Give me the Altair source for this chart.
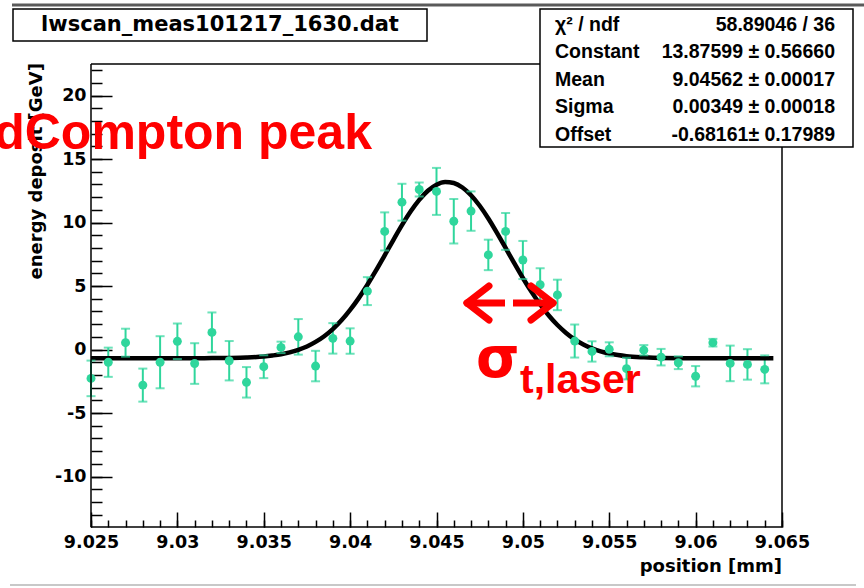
import altair as alt
import pandas as pd

# ---- data ----
positions = [9.025, 9.026, 9.027, 9.028, 9.029, 9.030, 9.031, 9.032, 9.033, 9.034,
             9.035, 9.036, 9.037, 9.038, 9.039, 9.040, 9.041, 9.042, 9.043, 9.044,
             9.045, 9.046, 9.047, 9.048, 9.049, 9.050, 9.051, 9.052, 9.053, 9.054,
             9.055, 9.056, 9.057, 9.058, 9.059, 9.060, 9.061, 9.062, 9.063, 9.064]
energy = [-2.27, -1.0, 0.54, -2.8, -1.0, 0.65, -1.1, 1.35, -0.88, -2.58,
          -1.35, 0.17, 1.0, -1.3, 0.88, 0.67, 4.6, 9.3, 11.6, 12.6,
          12.45, 10.1, 10.9, 7.45, 9.3, 7.05, 5.1, 4.3, 0.67, -0.15,
          0.02, -1.5, -0.05, -0.6, -1.04, -2.1, 0.54, -1.09, -1.17, -1.56]
errors = [1.4, 1.15, 1.1, 1.3, 2.05, 1.4, 1.6, 1.57, 1.55, 1.2,
          0.9, 0.45, 1.4, 1.2, 1.2, 1.0, 1.1, 1.5, 1.45, 0.55,
          1.85, 1.75, 1.55, 1.2, 1.45, 1.5, 1.3, 1.2, 1.3, 0.8,
          0.55, 0.85, 0.4, 0.65, 0.5, 0.8, 0.3, 1.4, 1.2, 1.1]

# fitted curve
fit_x = [9.025, 9.027, 9.029, 9.031, 9.032, 9.033, 9.034, 9.035, 9.0355, 9.036,
         9.0365, 9.037, 9.0375, 9.038, 9.0385, 9.039, 9.0395, 9.040, 9.0405, 9.041,
         9.0415, 9.042, 9.0425, 9.043, 9.0435, 9.044, 9.0445, 9.045, 9.0455, 9.046,
         9.0465, 9.047, 9.0475, 9.048, 9.0485, 9.049, 9.0495, 9.050, 9.0505, 9.051,
         9.0515, 9.052, 9.0525, 9.053, 9.0535, 9.054, 9.0545, 9.055, 9.0555, 9.056,
         9.057, 9.058, 9.060, 9.062, 9.0645]
fit_y = [-0.68, -0.68, -0.68, -0.68, -0.67, -0.66, -0.63, -0.55, -0.47, -0.37,
         -0.22, -0.02, 0.24, 0.60, 1.05, 1.61, 2.30, 3.12, 4.05, 5.10,
         6.23, 7.42, 8.62, 9.79, 10.86, 11.78, 12.50, 12.98, 13.19, 13.11,
         12.76, 12.15, 11.32, 10.32, 9.19, 8.00, 6.80, 5.63, 4.54, 3.55,
         2.68, 1.93, 1.31, 0.80, 0.40, 0.09, -0.14, -0.31, -0.43, -0.52,
         -0.61, -0.66, -0.68, -0.68, -0.68]

x_major = [9.025, 9.03, 9.035, 9.04, 9.045, 9.05, 9.055, 9.06, 9.065]
x_minor = [round(9.025 + 0.001 * k, 3) for k in range(41)]
y_major = [-10, -5, 0, 5, 10, 15, 20]
y_minor = list(range(-13, 23))

stat_names = ["\u03c7\u00b2 / ndf", "Constant", "Mean", "Sigma", "Offset"]
stat_values = ["58.89046 / 36", "13.87599 \u00b1 0.56660", "9.04562 \u00b1 0.00017",
               "0.00349 \u00b1 0.00018", "-0.68161\u00b1 0.17989"]

title_text = "lwscan_meas101217_1630.dat"
x_title = "position [mm]"
y_title = "energy deposit [GeV]"

# ---- layout (plot area) ----
W, H = 691, 463
PL, PT = 91, 64
FONT = "DejaVu Sans"
HELV = "Liberation Sans"
GREEN = "#2fd69c"
RED = "#ff0000"

XDOM = [9.025, 9.065]
YDOM = [-13.97, 22.48]

df = pd.DataFrame({"position": positions, "energy": energy, "err": errors})
df["lo"] = df["energy"] - df["err"]
df["hi"] = df["energy"] + df["err"]
fit = pd.DataFrame({"position": fit_x, "energy": fit_y})
one = pd.DataFrame({"a": [0]})

xs = alt.Scale(domain=XDOM, nice=False, zero=False)
ys = alt.Scale(domain=YDOM, nice=False, zero=False)

lab = dict(labelFont=FONT, labelFontWeight="bold", labelFontSize=17.5, labelColor="black",
           tickColor="black", tickWidth=1.5, domain=False, grid=False, title=None,
           labelOverlap=False, labelFlush=False)

x_major_axis = alt.Axis(values=x_major, tickSize=15, offset=-15, labelPadding=6,
                        orient="bottom", format=".3~f", **lab)
y_major_axis = alt.Axis(values=y_major, tickSize=21, offset=-21, labelPadding=5,
                        orient="left", labelExpr="toString(datum.value)", **lab)
x_minor_axis = alt.Axis(values=x_minor, tickSize=7, offset=-7, labels=False, orient="bottom",
                        tickColor="black", tickWidth=1.5, domain=False, grid=False, title=None)
y_minor_axis = alt.Axis(values=y_minor, tickSize=11, offset=-11, labels=False, orient="left",
                        tickColor="black", tickWidth=1.5, domain=False, grid=False, title=None)

base = alt.Chart(df)

bars = base.mark_rule(color=GREEN, strokeWidth=2).encode(
    x=alt.X("position:Q", scale=xs, axis=x_major_axis),
    y=alt.Y("lo:Q", scale=ys, axis=y_major_axis),
    y2="hi:Q",
)
cap_lo = base.mark_tick(color=GREEN, orient="horizontal", size=9, thickness=2).encode(
    x=alt.X("position:Q", scale=xs, axis=None), y=alt.Y("lo:Q", scale=ys, axis=None))
cap_hi = base.mark_tick(color=GREEN, orient="horizontal", size=9, thickness=2).encode(
    x=alt.X("position:Q", scale=xs, axis=None), y=alt.Y("hi:Q", scale=ys, axis=None))
pts = base.mark_circle(color=GREEN, size=80, opacity=1).encode(
    x=alt.X("position:Q", scale=xs, axis=None), y=alt.Y("energy:Q", scale=ys, axis=None))

curve = alt.Chart(fit).mark_line(color="black", strokeWidth=4.5, interpolate="monotone").encode(
    x=alt.X("position:Q", scale=xs, axis=x_minor_axis),
    y=alt.Y("energy:Q", scale=ys, axis=y_minor_axis),
)


def seg(x1, y1, x2, y2, color="black", width=1.5, cap="butt"):
    return alt.Chart(one).mark_rule(color=color, strokeWidth=width, strokeCap=cap).encode(
        x=alt.value(x1), y=alt.value(y1), x2=alt.value(x2), y2=alt.value(y2))


def txt(s, x, y, size, align="left", baseline="middle", color="black", weight="bold",
        font=FONT, angle=0):
    kw = dict(text=s, fontSize=size, align=align, baseline=baseline, color=color,
              fontWeight=weight, font=font)
    if angle:
        kw["angle"] = angle
    return alt.Chart(one).mark_text(**kw).encode(x=alt.value(x), y=alt.value(y))


frame = [seg(0, 0, W, 0), seg(0, H, W, H), seg(0, 0, 0, H), seg(W, 0, W, H)]

# window decoration lines
deco = [seg(12 - PL, 5 - PT, 864 - PL, 5 - PT, color="#5a5a5a", width=3),
        seg(10 - PL, 585 - PT, 856 - PL, 585 - PT, color="#c8c8c8", width=2)]

# title box
tbox = alt.Chart(one).mark_rect(fill="white", stroke="black", strokeWidth=1.5).encode(
    x=alt.value(13 - PL), x2=alt.value(427 - PL), y=alt.value(9 - PT), y2=alt.value(41 - PT))
ttext = txt(title_text, 220 - PL, 25 - PT, 21, align="center")

# stats box
sbox = alt.Chart(one).mark_rect(fill="white", stroke="black", strokeWidth=1.5).encode(
    x=alt.value(540 - PL), x2=alt.value(853 - PL), y=alt.value(9 - PT), y2=alt.value(147 - PT))
rows_y = [25, 52, 80, 107, 135]
stats = []
for name, val, ry in zip(stat_names, stat_values, rows_y):
    stats.append(txt(name, 555 - PL, ry - PT, 19.5, align="left", font=HELV))
    stats.append(txt(val, 835 - PL, ry - PT, 19.5, align="right", font=HELV))

# axis titles
xt = txt(x_title, 782 - PL, 567 - PT, 18, align="right")
yt = txt(y_title, 37 - PL, 63 - PT, 18, align="right", angle=270)

# red annotations
compton = txt("dCompton peak", 372 - PL, 149 - PT, 50, align="right", baseline="alphabetic",
              color=RED, font=HELV)
sigma = txt("\u03c3", 476 - PL, 377 - PT, 56, align="left", baseline="alphabetic",
            color=RED, font="DejaVu Sans")
sub = txt("t,laser", 520 - PL, 393 - PT, 41, align="left", baseline="alphabetic",
          color=RED, font=HELV)
ay = 303 - PT
arrow = [
    seg(467 - PL, ay, 505 - PL, ay, color=RED, width=7),
    seg(513 - PL, ay, 553 - PL, ay, color=RED, width=7),
    seg(467 - PL, ay, 489 - PL, ay - 17, color=RED, width=7, cap="round"),
    seg(467 - PL, ay, 489 - PL, ay + 17, color=RED, width=7, cap="round"),
    seg(553 - PL, ay, 531 - PL, ay - 17, color=RED, width=7, cap="round"),
    seg(553 - PL, ay, 531 - PL, ay + 17, color=RED, width=7, cap="round"),
]

layers = [bars, curve, cap_lo, cap_hi, pts] + frame + deco + [tbox, ttext, sbox] + stats + \
    [xt, yt, compton] + arrow + [sigma, sub]

chart = alt.layer(*layers).resolve_axis(x="independent", y="independent").properties(
    width=W, height=H,
    padding={"left": PL, "top": PT, "right": 864 - PL - W, "bottom": 588 - PT - H},
    autosize=alt.AutoSizeParams(type="none"),
    background="white",
).configure_view(stroke=None)

chart.save("out.html", embed_options={"renderer": "svg", "actions": False})
